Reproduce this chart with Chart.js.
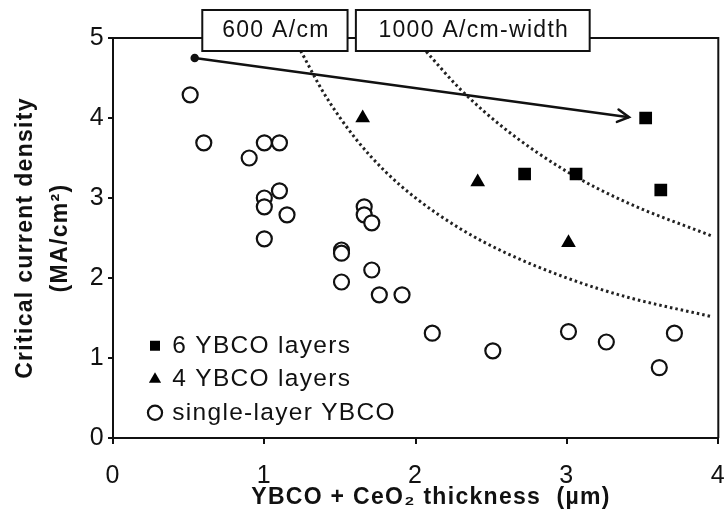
<!DOCTYPE html>
<html>
<head>
<meta charset="utf-8">
<script src="https://cdn.jsdelivr.net/npm/chart.js@4"></script>
<style>
  html, body { margin: 0; padding: 0; background: #fff; }
</style>
</head>
<body>
<canvas id="chart" width="728" height="526"></canvas>
<script>
// values (x: thickness in um, y: Jc in MA/cm2)
const sixLayerX = [2.72, 3.06, 3.52, 3.62];
const sixLayerY = [3.3, 3.3, 4.0, 3.1];

const fourLayerX = [1.65, 2.41, 3.01];
const fourLayerY = [4.0, 3.2, 2.44];

const singleX = [0.51, 0.6, 0.9, 1.0, 1.1, 1.1, 1.0, 1.0, 1.15, 1.0,
                 1.66, 1.66, 1.71, 1.51, 1.51, 1.71, 1.51, 1.76, 1.91,
                 2.11, 2.51, 3.01, 3.26, 3.61, 3.71];
const singleY = [4.29, 3.69, 3.5, 3.69, 3.69, 3.09, 3.0, 2.89, 2.79, 2.49,
                 2.89, 2.79, 2.69, 2.35, 2.31, 2.1, 1.95, 1.79, 1.79,
                 1.31, 1.09, 1.33, 1.2, 0.88, 1.31];

// dotted constant-current curves
const curve600X = [1.24, 1.4, 1.6, 1.8, 2.0, 2.3, 2.6, 3.0, 3.4, 3.95];
const curve600Y = [4.84, 4.29, 3.75, 3.33, 3.0, 2.61, 2.31, 2.0, 1.76, 1.52];
const curve1000X = [2.07, 2.3, 2.6, 3.0, 3.4, 3.95];
const curve1000Y = [4.83, 4.35, 3.85, 3.33, 2.94, 2.53];

// trend arrow
const arrowX = [0.54, 3.41];
const arrowY = [4.75, 4.01];

const xTicks = [0, 1, 2, 3, 4];
const yTicks = [0, 1, 2, 3, 4, 5];

const boxLabels = ['600 A/cm', '1000 A/cm-width'];

const toPoints = (xs, ys) => xs.map((x, i) => ({ x: x, y: ys[i] }));

// the scan's lettering is a bit wide; widen canvas text a little
const wideText = {
  id: 'wideText',
  beforeLayout(chart) { chart.ctx.letterSpacing = '1.3px'; },
  beforeDraw(chart) { chart.ctx.letterSpacing = '1.3px'; }
};

// legend sits in the lower-left corner of the plot
const legendSpot = {
  id: 'legendSpot',
  afterLayout(chart) {
    const a = chart.chartArea, lg = chart.legend;
    lg.left = a.left + 28;
    lg.bottom = a.bottom - 4;
  }
};

// frame on top/right, arrow head, and the two label boxes on the top edge
const extras = {
  id: 'extras',
  afterDraw(chart) {
    const { ctx, chartArea: a, scales } = chart;
    ctx.save();
    ctx.strokeStyle = '#111';
    ctx.lineWidth = 2;
    ctx.beginPath();
    ctx.moveTo(a.left, a.top);
    ctx.lineTo(a.right, a.top);
    ctx.lineTo(a.right, a.bottom);
    ctx.stroke();

    // arrow head
    const pts = chart.getDatasetMeta(5).data;
    const p0 = pts[0], p1 = pts[pts.length - 1];
    const ang = Math.atan2(p1.y - p0.y, p1.x - p0.x);
    ctx.lineWidth = 2.5;
    ctx.lineCap = 'round';
    ctx.beginPath();
    ctx.moveTo(p1.x - 13 * Math.cos(ang - 0.5), p1.y - 13 * Math.sin(ang - 0.5));
    ctx.lineTo(p1.x, p1.y);
    ctx.lineTo(p1.x - 13 * Math.cos(ang + 0.5), p1.y - 13 * Math.sin(ang + 0.5));
    ctx.stroke();

    // label boxes
    const x = scales.x;
    const boxes = [
      [x.getPixelForValue(0.59), x.getPixelForValue(1.55)],
      [x.getPixelForValue(1.605), x.getPixelForValue(3.15)]
    ];
    ctx.font = '23px "Liberation Sans", Arial, sans-serif';
    ctx.textAlign = 'center';
    ctx.textBaseline = 'middle';
    ctx.lineWidth = 2;
    boxes.forEach((b, i) => {
      ctx.fillStyle = '#fff';
      ctx.fillRect(b[0], 10, b[1] - b[0], 41);
      ctx.strokeRect(b[0], 10, b[1] - b[0], 41);
      ctx.fillStyle = '#111';
      ctx.fillText(boxLabels[i], (b[0] + b[1]) / 2 + 1, 31);
    });
    ctx.restore();
  }
};

const dotted = {
  type: 'line',
  borderColor: '#222',
  borderWidth: 3,
  borderDash: [2.5, 3],
  pointRadius: 0,
  cubicInterpolationMode: 'monotone',
  fill: false
};

new Chart(document.getElementById('chart'), {
  type: 'scatter',
  data: {
    datasets: [
      {
        label: '6 YBCO layers',
        data: toPoints(sixLayerX, sixLayerY),
        pointStyle: 'rect',
        pointRadius: 9,
        backgroundColor: '#000',
        borderColor: '#000',
        borderWidth: 0
      },
      {
        label: '4 YBCO layers',
        data: toPoints(fourLayerX, fourLayerY),
        pointStyle: 'triangle',
        pointRadius: 8.5,
        backgroundColor: '#000',
        borderColor: '#000',
        borderWidth: 0
      },
      {
        label: 'single-layer YBCO',
        data: toPoints(singleX, singleY),
        pointStyle: 'circle',
        pointRadius: 7.5,
        backgroundColor: '#fff',
        borderColor: '#111',
        borderWidth: 2.2
      },
      Object.assign({ label: '600', data: toPoints(curve600X, curve600Y) }, dotted),
      Object.assign({ label: '1000', data: toPoints(curve1000X, curve1000Y) }, dotted),
      {
        type: 'line',
        label: 'arrow',
        data: toPoints(arrowX, arrowY),
        borderColor: '#111',
        backgroundColor: '#111',
        borderWidth: 2.5,
        pointRadius: [3, 0],
        fill: false
      }
    ]
  },
  options: {
    responsive: false,
    devicePixelRatio: 1,
    animation: false,
    layout: { padding: { top: 38, right: 5, bottom: 15, left: 0 } },
    plugins: {
      legend: {
        position: 'chartArea',
        align: 'end',
        labels: {
          usePointStyle: true,
          boxWidth: 10,
          boxHeight: 10,
          padding: 9,
          color: '#111',
          font: { family: '"Liberation Sans", Arial, sans-serif', size: 24.5 },
          filter: item => item.datasetIndex < 3
        }
      },
      tooltip: { enabled: false }
    },
    scales: {
      x: {
        type: 'linear',
        min: 0,
        max: 4,
        afterBuildTicks: s => { s.ticks = xTicks.map(v => ({ value: v })); },
        afterFit: s => { s.height = 73; s.paddingLeft = 0; s.paddingRight = 0; },
        border: { display: true, color: '#111', width: 2 },
        grid: { display: true, drawOnChartArea: false, drawTicks: true, tickLength: 6, color: '#111', lineWidth: 2 },
        ticks: {
          color: '#111',
          padding: 17,
          font: { family: '"Liberation Sans", Arial, sans-serif', size: 25 }
        },
        title: {
          display: true,
          text: '    YBCO + CeO\u2082 thickness  (\u00b5m)',
          color: '#111',
          padding: { top: 0, bottom: 0 },
          font: { family: '"Liberation Sans", Arial, sans-serif', size: 23, weight: 'bold' }
        }
      },
      y: {
        type: 'linear',
        min: 0,
        max: 5,
        afterBuildTicks: s => { s.ticks = yTicks.map(v => ({ value: v })); },
        afterFit: s => { s.width = 113; },
        border: { display: true, color: '#111', width: 2 },
        grid: { display: true, drawOnChartArea: false, drawTicks: true, tickLength: 5, color: '#111', lineWidth: 2 },
        ticks: {
          color: '#111',
          padding: 3,
          font: { family: '"Liberation Sans", Arial, sans-serif', size: 25 }
        },
        title: {
          display: true,
          text: ['Critical current density', '(MA/cm\u00b2)'],
          color: '#111',
          padding: { top: 8, bottom: 0 },
          font: { family: '"Liberation Sans", Arial, sans-serif', size: 23, weight: 'bold', lineHeight: 1.52 }
        }
      }
    }
  },
  plugins: [wideText, legendSpot, extras]
});
</script>
</body>
</html>
